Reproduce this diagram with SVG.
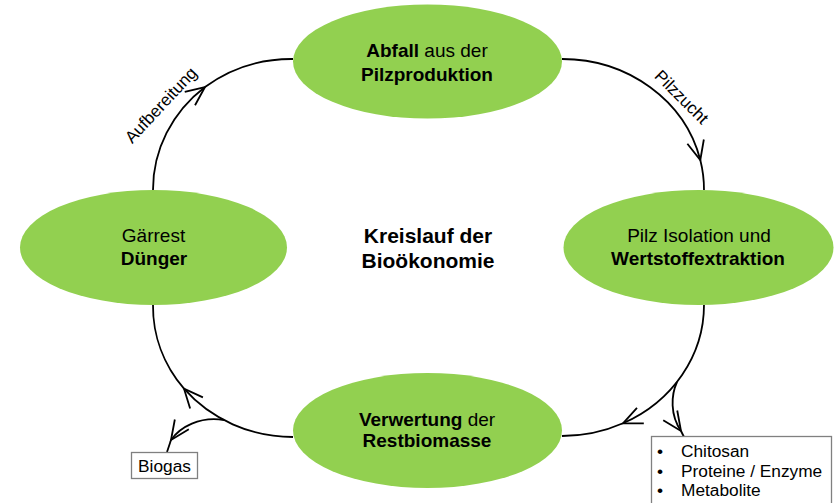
<svg xmlns="http://www.w3.org/2000/svg" width="835" height="503" viewBox="0 0 835 503">
<style>
.node{fill:#92D050;}
.t{font-family:"Liberation Sans",Arial,sans-serif;fill:#000;}
.nt{font-size:19px;text-anchor:middle;}
.b{font-weight:bold;}
.lbl{font-size:17px;text-anchor:middle;}
.box{fill:#fff;stroke:#808080;stroke-width:1.3;}
.bt{font-size:17.3px;}
.con{fill:none;stroke:#000;stroke-width:1.8;}
</style>
<defs>
<marker id="arr" markerUnits="userSpaceOnUse" markerWidth="24" markerHeight="24" viewBox="-22 -12 24 24" refX="0" refY="0" orient="auto" overflow="visible">
<path d="M-19,-8.5 L0,0 L-19,8.5" fill="none" stroke="#000" stroke-width="1.8"/>
</marker>
</defs>
<rect width="835" height="503" fill="#fff"/>

<g id="connectors">
<path class="con" d="M153,190 A140.5,132 0 0 1 205,87" marker-end="url(#arr)"/>
<path class="con" d="M205,87 A140.5,132 0 0 1 293,59"/>
<path class="con" d="M562,59 A142,131 0 0 1 700.3,160" marker-end="url(#arr)"/>
<path class="con" d="M700.3,160 A142,131 0 0 1 704,190"/>
<path class="con" d="M704,305 A142,131 0 0 1 623,423.3" marker-end="url(#arr)"/>
<path class="con" d="M623,423.3 A142,131 0 0 1 562,436"/>
<path class="con" d="M677,382 C671,395 670,415 681,431" marker-end="url(#arr)"/>
<path class="con" d="M681,431 L684,437"/>
<path class="con" d="M293,437 A141,132 0 0 1 184,388.7" marker-end="url(#arr)"/>
<path class="con" d="M184,388.7 A141,132 0 0 1 153,305"/>
<path class="con" d="M224,420 C200,416 180,427 171,440" marker-end="url(#arr)"/>
<path class="con" d="M171,440 L167,452"/>
</g>

<g id="node-abfall">
<ellipse class="node" cx="427.5" cy="61.5" rx="134.5" ry="57"/>
<text class="t nt" x="427" y="57"><tspan class="b">Abfall</tspan> aus der</text>
<text class="t nt b" x="427" y="81">Pilzproduktion</text>
</g>

<g id="node-pilz">
<ellipse class="node" cx="698.5" cy="247.5" rx="135" ry="57.5"/>
<text class="t nt" x="699" y="242">Pilz Isolation und</text>
<text class="t nt b" x="698" y="265">Wertstoffextraktion</text>
</g>

<g id="node-verwertung">
<ellipse class="node" cx="427.5" cy="430.5" rx="134.5" ry="57.5"/>
<text class="t nt" x="427" y="426"><tspan class="b">Verwertung</tspan> der</text>
<text class="t nt b" x="427" y="447">Restbiomasse</text>
</g>

<g id="node-gaerrest">
<ellipse class="node" cx="153.5" cy="247.5" rx="133.5" ry="57.5"/>
<text class="t nt" x="153.5" y="242">Gärrest</text>
<text class="t nt b" x="154" y="265">Dünger</text>
</g>

<g id="title">
<text class="t b" x="428" y="243" font-size="21" text-anchor="middle">Kreislauf der</text>
<text class="t b" x="428" y="268" font-size="21" text-anchor="middle">Bioökonomie</text>
</g>

<g id="label-aufbereitung">
<text class="t lbl" transform="translate(165,109) rotate(-47)">Aufbereitung</text>
</g>
<g id="label-pilzzucht">
<text class="t lbl" transform="translate(677.5,101) rotate(45)">Pilzzucht</text>
</g>

<g id="node-biogas">
<rect class="box" x="131.5" y="452.5" width="66" height="26"/>
<text class="t bt" x="164.5" y="471.5" text-anchor="middle">Biogas</text>
</g>

<g id="node-produkte">
<rect class="box" x="651.5" y="436.5" width="180" height="72"/>
<text class="t bt" x="657" y="457">•</text>
<text class="t bt" x="681" y="457">Chitosan</text>
<text class="t bt" x="657" y="477">•</text>
<text class="t bt" x="681" y="477">Proteine / Enzyme</text>
<text class="t bt" x="657" y="496">•</text>
<text class="t bt" x="681" y="496">Metabolite</text>
</g>
</svg>
